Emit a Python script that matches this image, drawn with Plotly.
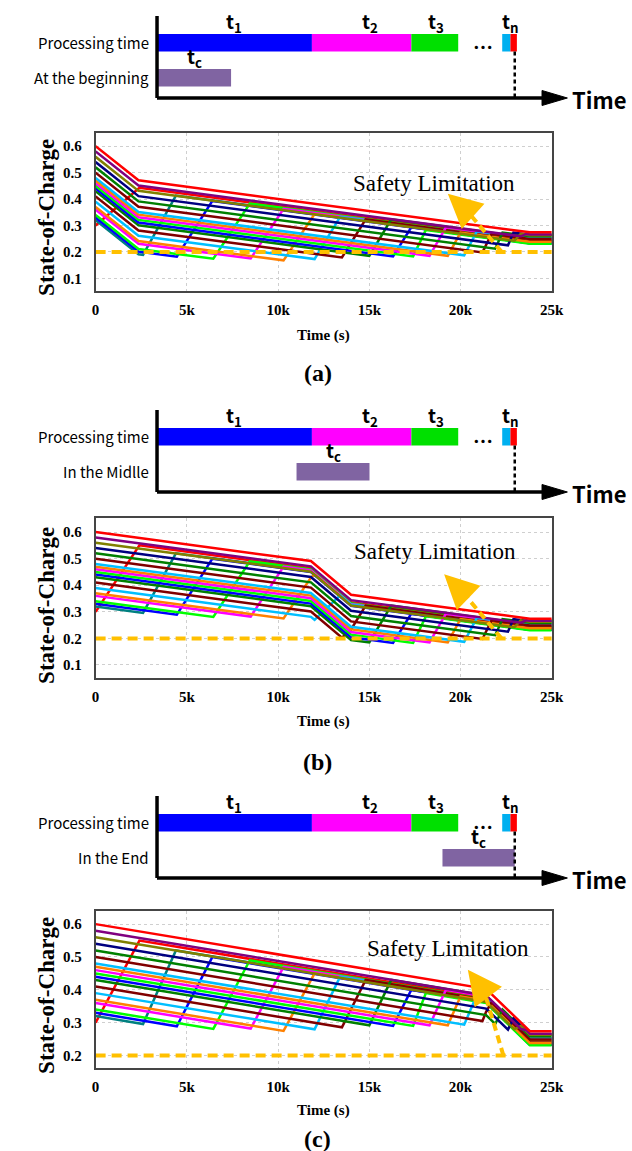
import plotly.graph_objects as go

W, H = 632, 1151

# ---------------- data ----------------
VEH_COLORS = ['#FF0000', '#008080', '#0000FF', '#00FF00', '#FF00FF', '#FF8000', '#00BFFF',
              '#800000', '#008000', '#0000FF', '#00FF00', '#FF00FF', '#FF8000', '#00BFFF',
              '#800000', '#008000', '#000080', '#808000', '#800080', '#FF0000']

# (a) common consumption at the beginning
SOC_A_T = [
    [0, 2400, 23800, 25000],
    [0, 2350, 2600, 4400, 23800, 25000],
    [0, 2350, 4450, 6400, 23800, 25000],
    [0, 2350, 6450, 8450, 23800, 25000],
    [0, 2350, 8500, 10300, 23800, 25000],
    [0, 2350, 10300, 12000, 23800, 25000],
    [0, 2350, 12000, 13400, 23800, 25000],
    [0, 2350, 13500, 14800, 23800, 25000],
    [0, 2350, 15000, 16200, 23800, 25000],
    [0, 2350, 16300, 17300, 23800, 25000],
    [0, 2350, 17400, 18100, 23800, 25000],
    [0, 2350, 18300, 19200, 23800, 25000],
    [0, 2350, 19300, 20000, 23800, 25000],
    [0, 2350, 20200, 20900, 23800, 25000],
    [0, 2350, 21200, 21700, 23800, 25000],
    [0, 2350, 21900, 22300, 23800, 25000],
    [0, 2350, 22600, 22900, 23800, 25000],
    [0, 2350, 22950, 23300, 23800, 25000],
    [0, 2350, 23300, 23600, 23800, 25000],
    [0, 2350, 23800, 25000],
]
SOC_A_S = [
    [0.30, 0.443, 0.246, 0.246],
    [0.32, 0.191, 0.189, 0.413, 0.235, 0.235],
    [0.33, 0.201, 0.182, 0.393, 0.233, 0.233],
    [0.34, 0.211, 0.174, 0.383, 0.242, 0.242],
    [0.36, 0.231, 0.175, 0.363, 0.239, 0.239],
    [0.37, 0.241, 0.168, 0.343, 0.234, 0.234],
    [0.39, 0.261, 0.173, 0.333, 0.237, 0.237],
    [0.41, 0.281, 0.179, 0.323, 0.240, 0.240],
    [0.43, 0.301, 0.185, 0.323, 0.253, 0.253],
    [0.44, 0.311, 0.183, 0.293, 0.233, 0.233],
    [0.45, 0.321, 0.183, 0.283, 0.231, 0.231],
    [0.46, 0.331, 0.185, 0.293, 0.251, 0.251],
    [0.47, 0.341, 0.185, 0.273, 0.238, 0.238],
    [0.48, 0.351, 0.187, 0.278, 0.251, 0.251],
    [0.50, 0.371, 0.198, 0.268, 0.249, 0.249],
    [0.52, 0.391, 0.212, 0.273, 0.259, 0.259],
    [0.54, 0.411, 0.225, 0.273, 0.265, 0.265],
    [0.56, 0.431, 0.242, 0.268, 0.263, 0.263],
    [0.58, 0.451, 0.259, 0.268, 0.266, 0.266],
    [0.60, 0.471, 0.274, 0.274],
]

# (b) common consumption in the middle
SOC_B_T = [
    [0, 2400, 11800, 14000, 23800, 25000],
    [0, 2600, 4400, 11800, 14000, 23800, 25000],
    [0, 4450, 6400, 11800, 14000, 23800, 25000],
    [0, 6450, 8450, 11800, 14000, 23800, 25000],
    [0, 8500, 10300, 11800, 14000, 23800, 25000],
    [0, 10300, 11800, 12000, 14000, 23800, 25000],
    [0, 11800, 12000, 13400, 14000, 23800, 25000],
    [0, 11800, 13500, 14000, 14800, 23800, 25000],
    [0, 11800, 14000, 15000, 16200, 23800, 25000],
    [0, 11800, 14000, 16300, 17300, 23800, 25000],
    [0, 11800, 14000, 17400, 18100, 23800, 25000],
    [0, 11800, 14000, 18300, 19200, 23800, 25000],
    [0, 11800, 14000, 19300, 20000, 23800, 25000],
    [0, 11800, 14000, 20200, 20900, 23800, 25000],
    [0, 11800, 14000, 21200, 21700, 23800, 25000],
    [0, 11800, 14000, 21900, 22300, 23800, 25000],
    [0, 11800, 14000, 22600, 22900, 23800, 25000],
    [0, 11800, 14000, 22950, 23300, 23800, 25000],
    [0, 11800, 14000, 23300, 23600, 23800, 25000],
    [0, 11800, 14000, 23800, 25000],
]
SOC_B_S = [
    [0.30, 0.55, 0.464, 0.336, 0.246, 0.246],
    [0.32, 0.296, 0.52, 0.452, 0.325, 0.235, 0.235],
    [0.33, 0.289, 0.50, 0.450, 0.323, 0.233, 0.233],
    [0.34, 0.281, 0.49, 0.459, 0.332, 0.242, 0.242],
    [0.36, 0.282, 0.47, 0.456, 0.329, 0.239, 0.239],
    [0.37, 0.275, 0.429, 0.440, 0.325, 0.234, 0.234],
    [0.39, 0.281, 0.270, 0.362, 0.328, 0.237, 0.237],
    [0.41, 0.301, 0.203, 0.234, 0.323, 0.240, 0.240],
    [0.43, 0.321, 0.194, 0.185, 0.323, 0.253, 0.253],
    [0.44, 0.331, 0.204, 0.183, 0.293, 0.233, 0.233],
    [0.45, 0.341, 0.214, 0.183, 0.283, 0.231, 0.231],
    [0.46, 0.351, 0.224, 0.185, 0.293, 0.251, 0.251],
    [0.47, 0.361, 0.234, 0.185, 0.273, 0.238, 0.238],
    [0.48, 0.371, 0.244, 0.187, 0.278, 0.251, 0.251],
    [0.50, 0.391, 0.264, 0.198, 0.268, 0.249, 0.249],
    [0.52, 0.411, 0.284, 0.212, 0.273, 0.259, 0.259],
    [0.54, 0.431, 0.304, 0.225, 0.273, 0.265, 0.265],
    [0.56, 0.451, 0.324, 0.242, 0.268, 0.263, 0.263],
    [0.58, 0.471, 0.344, 0.259, 0.268, 0.266, 0.266],
    [0.60, 0.491, 0.364, 0.274, 0.274],
]

# (c) common consumption in the end
SOC_C_T = [
    [0, 2400, 21400, 23800, 25000],
    [0, 2600, 4400, 21400, 23800, 25000],
    [0, 4450, 6400, 21400, 23800, 25000],
    [0, 6450, 8450, 21400, 23800, 25000],
    [0, 8500, 10300, 21400, 23800, 25000],
    [0, 10300, 12000, 21400, 23800, 25000],
    [0, 12000, 13400, 21400, 23800, 25000],
    [0, 13500, 14800, 21400, 23800, 25000],
    [0, 15000, 16200, 21400, 23800, 25000],
    [0, 16300, 17300, 21400, 23800, 25000],
    [0, 17400, 18100, 21400, 23800, 25000],
    [0, 18300, 19200, 21400, 23800, 25000],
    [0, 19300, 20000, 21400, 23800, 25000],
    [0, 20200, 20900, 21400, 23800, 25000],
    [0, 21200, 21400, 21700, 23800, 25000],
    [0, 21400, 21900, 22300, 23800, 25000],
    [0, 21400, 22600, 22900, 23800, 25000],
    [0, 21400, 22950, 23300, 23800, 25000],
    [0, 21400, 23300, 23600, 23800, 25000],
    [0, 21400, 23800, 25000],
]
SOC_C_S = [
    [0.30, 0.55, 0.375, 0.246, 0.246],
    [0.32, 0.296, 0.52, 0.364, 0.235, 0.235],
    [0.33, 0.289, 0.50, 0.362, 0.233, 0.233],
    [0.34, 0.281, 0.49, 0.371, 0.242, 0.242],
    [0.36, 0.282, 0.47, 0.368, 0.239, 0.239],
    [0.37, 0.275, 0.45, 0.364, 0.234, 0.234],
    [0.39, 0.280, 0.44, 0.366, 0.237, 0.237],
    [0.41, 0.286, 0.43, 0.369, 0.240, 0.240],
    [0.43, 0.292, 0.43, 0.382, 0.253, 0.253],
    [0.44, 0.290, 0.40, 0.362, 0.233, 0.233],
    [0.45, 0.290, 0.39, 0.360, 0.231, 0.231],
    [0.46, 0.292, 0.40, 0.380, 0.251, 0.251],
    [0.47, 0.292, 0.38, 0.367, 0.238, 0.238],
    [0.48, 0.294, 0.385, 0.380, 0.251, 0.251],
    [0.50, 0.305, 0.333, 0.362, 0.249, 0.249],
    [0.52, 0.323, 0.296, 0.340, 0.259, 0.259],
    [0.54, 0.343, 0.279, 0.313, 0.265, 0.265],
    [0.56, 0.363, 0.280, 0.290, 0.263, 0.263],
    [0.58, 0.383, 0.281, 0.277, 0.266, 0.266],
    [0.60, 0.403, 0.274, 0.274],
]

SAFETY_LIMIT = 0.2
T_MIN, T_MAX = 0, 25000
X_TICKS = [0, 5000, 10000, 15000, 20000, 25000]
X_TICK_TEXT = ['0', '5k', '10k', '15k', '20k', '25k']
Y_TICKS_AB = [0.1, 0.2, 0.3, 0.4, 0.5, 0.6]
Y_TICKS_C = [0.2, 0.3, 0.4, 0.5, 0.6]

# "Safety Limitation" callouts (text, arrow tip, arrow head base, dashed tail)
SAFETY_TEXT = [(18550, 0.46), (18580, 0.526), (19330, 0.527)]
ARROW_TIP = [(19300, 0.42), (19100, 0.441), (20400, 0.461)]
ARROW_BASE = [(20400, 0.352), (20100, 0.375), (21300, 0.395)]
ARROW_TAIL = [(22250, 0.2), (22240, 0.2), (22350, 0.2)]

# timeline schematic (time relative to t_total = 1)
TL_SEG_START = [0.0, 0.433, 0.711, 0.965, 0.988]
TL_SEG_END = [0.433, 0.711, 0.842, 0.988, 1.006]
TL_SEG_COLORS = ['#0000FF', '#FF00FF', '#00E000', '#00B0F0', '#FF0000']
TL_LABELS = ['t<sub>1</sub>', 't<sub>2</sub>', 't<sub>3</sub>', 't<sub>n</sub>']
TL_LABEL_X = [0.2165, 0.595, 0.78, 0.988]
TC_START = [0.0, 0.39, 0.798]
TC_END = [0.207, 0.594, 1.0]
TC_ROW_LABELS = ['At the beginning', 'In the Midlle', 'In the End']
PANEL_LABELS = ['(a)', '(b)', '(c)']

# ---------------- layout (pixels) ----------------
TL_ORIGIN_PX, TL_TOTAL_PX = 157, 524
TL_SPAN = TL_TOTAL_PX - TL_ORIGIN_PX
ROW_PX = 35.0
PANELS = [
    dict(axis_px=98, soc_top=133, soc_bot=291, yr=[0.052, 0.65], yt=Y_TICKS_AB,
         T=SOC_A_T, S=SOC_A_S, tlab_y=335, plab_y=373, title_y=217),
    dict(axis_px=492, soc_top=518, soc_bot=678, yr=[0.051, 0.653], yt=Y_TICKS_AB,
         T=SOC_B_T, S=SOC_B_S, tlab_y=721, plab_y=762, title_y=605),
    dict(axis_px=878, soc_top=911, soc_bot=1068, yr=[0.162, 0.64], yt=Y_TICKS_C,
         T=SOC_C_T, S=SOC_C_S, tlab_y=1110, plab_y=1139, title_y=995),
]

SANS = 'Noto Sans CJK KR'
SERIF = 'Liberation Serif'

fig = go.Figure()
layout = dict(width=W, height=H, margin=dict(l=0, r=0, t=0, b=0),
              paper_bgcolor='white', plot_bgcolor='white', showlegend=False,
              barmode='overlay')
annotations = []


def sfx(n):
    return '' if n == 1 else str(n)


def u_of(px):
    return (px - TL_ORIGIN_PX) / TL_SPAN


for k, P in enumerate(PANELS):
    ntl, nsoc = 2 * k + 1, 2 * k + 2
    xa_t, ya_t = 'x' + sfx(ntl), 'y' + sfx(ntl)
    xa_s, ya_s = 'x' + sfx(nsoc), 'y' + sfx(nsoc)
    ap = P['axis_px']
    tc_row_px = ap - 20.25

    def row_of(px, base=tc_row_px):
        return (base - px) / ROW_PX

    top_px, bot_px = ap - 88, ap + 8
    layout['xaxis' + sfx(ntl)] = dict(domain=[150 / W, 580 / W], range=[u_of(150), u_of(580)],
                                      visible=False, anchor=ya_t, fixedrange=True)
    layout['yaxis' + sfx(ntl)] = dict(domain=[1 - bot_px / H, 1 - top_px / H],
                                      range=[row_of(bot_px), row_of(top_px)],
                                      visible=False, anchor=xa_t, fixedrange=True)
    axis_y = row_of(ap)

    # processing-time bars
    for s, e, c in zip(TL_SEG_START, TL_SEG_END, TL_SEG_COLORS):
        fig.add_trace(go.Bar(x=[e - s], base=[s], y=[1], orientation='h', width=0.5,
                             marker=dict(color=c, line=dict(width=0)),
                             xaxis=xa_t, yaxis=ya_t, hoverinfo='skip'))
    # common consumption bar
    fig.add_trace(go.Bar(x=[TC_END[k] - TC_START[k]], base=[TC_START[k]], y=[0], orientation='h',
                         width=0.5, marker=dict(color='#8064A2', line=dict(width=0)),
                         xaxis=xa_t, yaxis=ya_t, hoverinfo='skip'))
    # t_total dashed marker
    fig.add_trace(go.Scatter(x=[1, 1], y=[0.75, axis_y], mode='lines',
                             line=dict(color='black', width=2.5, dash='4px,3px'),
                             xaxis=xa_t, yaxis=ya_t, hoverinfo='skip'))
    # axes of the schematic
    fig.add_trace(go.Scatter(x=[0, 0], y=[axis_y, row_of(ap - 82)], mode='lines',
                             line=dict(color='black', width=3.5), xaxis=xa_t, yaxis=ya_t,
                             hoverinfo='skip'))
    fig.add_trace(go.Scatter(x=[0, u_of(554)], y=[axis_y, axis_y], mode='lines',
                             line=dict(color='black', width=3.5), xaxis=xa_t, yaxis=ya_t,
                             hoverinfo='skip'))
    hh = 7.5 / ROW_PX
    fig.add_trace(go.Scatter(x=[u_of(552), u_of(578), u_of(552), u_of(552)],
                             y=[axis_y + hh, axis_y, axis_y - hh, axis_y + hh],
                             mode='lines', fill='toself', fillcolor='black',
                             line=dict(color='black', width=1), xaxis=xa_t, yaxis=ya_t,
                             hoverinfo='skip'))

    lab_font = dict(family=SANS, size=19, color='black')
    for lx, lt in zip(TL_LABEL_X, TL_LABELS):
        annotations.append(dict(x=lx, y=1.25 + 12 / ROW_PX, xref=xa_t, yref=ya_t, text='<b>' + lt + '</b>',
                                showarrow=False, font=lab_font, xanchor='center', yanchor='middle'))
    annotations.append(dict(x=(TC_START[k] + TC_END[k]) / 2, y=0.25 + 12 / ROW_PX, xref=xa_t, yref=ya_t,
                            text='<b>t<sub>c</sub></b>', showarrow=False, font=lab_font,
                            xanchor='center', yanchor='middle'))
    annotations.append(dict(x=u_of(491), y=0.75 + 5 / ROW_PX, xref=xa_t, yref=ya_t, text='<b>…</b>',
                            showarrow=False, font=dict(family=SANS, size=20, color='black'),
                            xanchor='center', yanchor='middle'))
    annotations.append(dict(x=0, y=row_of(ap + 13), xref=xa_t, yref=ya_t, text='0',
                            showarrow=False, font=dict(family=SANS, size=17, color='black'),
                            xanchor='center', yanchor='middle'))
    annotations.append(dict(x=u_of(527), y=row_of(ap + 14), xref=xa_t, yref=ya_t,
                            text='t<sub>total</sub>', showarrow=False,
                            font=dict(family=SANS, size=17, color='black'),
                            xanchor='center', yanchor='middle'))
    annotations.append(dict(x=581 / W, y=row_of(ap + 1), xref='paper', yref=ya_t, text='<b>Time</b>',
                            showarrow=False, font=dict(family=SANS, size=22, color='black'),
                            xanchor='left', yanchor='middle'))
    annotations.append(dict(x=151 / W, y=1, xref='paper', yref=ya_t, text='Processing time',
                            showarrow=False, font=dict(family=SANS, size=15, color='black'),
                            xanchor='right', yanchor='middle'))
    annotations.append(dict(x=151 / W, y=0, xref='paper', yref=ya_t, text=TC_ROW_LABELS[k],
                            showarrow=False, font=dict(family=SANS, size=15, color='black'),
                            xanchor='right', yanchor='middle'))

    # ---------- SOC plot ----------
    tickfont = dict(family=SERIF, size=15, color='black', weight='bold')
    layout['xaxis' + sfx(nsoc)] = dict(domain=[94 / W, 562 / W], range=[T_MIN, T_MAX],
                                       tickvals=X_TICKS, ticktext=X_TICK_TEXT, tickfont=tickfont,
                                       showgrid=True, gridcolor='#cfcfcf', griddash='dot', gridwidth=1,
                                       showline=True, linecolor='#454545', linewidth=1.5, mirror=True,
                                       zeroline=False, ticks='', ticklabelstandoff=4, anchor=ya_s,
                                       fixedrange=True)
    layout['yaxis' + sfx(nsoc)] = dict(domain=[1 - P['soc_bot'] / H, 1 - P['soc_top'] / H],
                                       range=P['yr'], tickvals=P['yt'], tickformat='.1f',
                                       tickfont=tickfont, showgrid=True, gridcolor='#cfcfcf',
                                       griddash='dot', gridwidth=1, showline=True, linecolor='#454545',
                                       linewidth=1.5, mirror=True, zeroline=False, ticks='',
                                       ticklabelstandoff=9, anchor=xa_s, fixedrange=True)
    for i in range(len(P['T'])):
        fig.add_trace(go.Scatter(x=P['T'][i], y=P['S'][i], mode='lines',
                                 line=dict(color=VEH_COLORS[i], width=2.5),
                                 xaxis=xa_s, yaxis=ya_s, hoverinfo='skip'))
    fig.add_trace(go.Scatter(x=[T_MIN, T_MAX], y=[SAFETY_LIMIT, SAFETY_LIMIT], mode='lines',
                             line=dict(color='#FFC000', width=4, dash='10px,6px'),
                             xaxis=xa_s, yaxis=ya_s, hoverinfo='skip'))
    fig.add_trace(go.Scatter(x=[ARROW_TAIL[k][0], ARROW_BASE[k][0]], y=[ARROW_TAIL[k][1], ARROW_BASE[k][1]],
                             mode='lines', line=dict(color='#FFC000', width=4, dash='8px,5px'),
                             xaxis=xa_s, yaxis=ya_s, hoverinfo='skip'))
    annotations.append(dict(x=ARROW_TIP[k][0], y=ARROW_TIP[k][1], ax=ARROW_BASE[k][0], ay=ARROW_BASE[k][1],
                            xref=xa_s, yref=ya_s, axref=xa_s, ayref=ya_s, text='', showarrow=True,
                            arrowhead=2, arrowsize=1.7, arrowwidth=4, arrowcolor='#FFC000', standoff=0))
    annotations.append(dict(x=SAFETY_TEXT[k][0], y=SAFETY_TEXT[k][1], xref=xa_s, yref=ya_s,
                            text='Safety Limitation', showarrow=False,
                            font=dict(family=SERIF, size=23, color='black'),
                            xanchor='center', yanchor='middle'))
    annotations.append(dict(x=43 / W, y=1 - P['title_y'] / H, xref='paper', yref='paper',
                            text='<b>State-of-Charge</b>', textangle=-90, showarrow=False,
                            font=dict(family=SERIF, size=23, color='black'),
                            xanchor='center', yanchor='middle'))
    annotations.append(dict(x=328 / W, y=1 - P['tlab_y'] / H, xref='paper', yref='paper',
                            text='<b>Time (s)</b>', showarrow=False,
                            font=dict(family=SERIF, size=15, color='black'),
                            xanchor='center', yanchor='middle'))
    annotations.append(dict(x=322 / W, y=1 - P['plab_y'] / H, xref='paper', yref='paper',
                            text='<b>' + PANEL_LABELS[k] + '</b>', showarrow=False,
                            font=dict(family=SERIF, size=24, color='black'),
                            xanchor='center', yanchor='middle'))

layout['annotations'] = annotations
fig.update_layout(**layout)
fig.write_html('out.html', config={'displayModeBar': False},
               post_script="document.body.style.margin='0';document.body.style.overflow='hidden';")
